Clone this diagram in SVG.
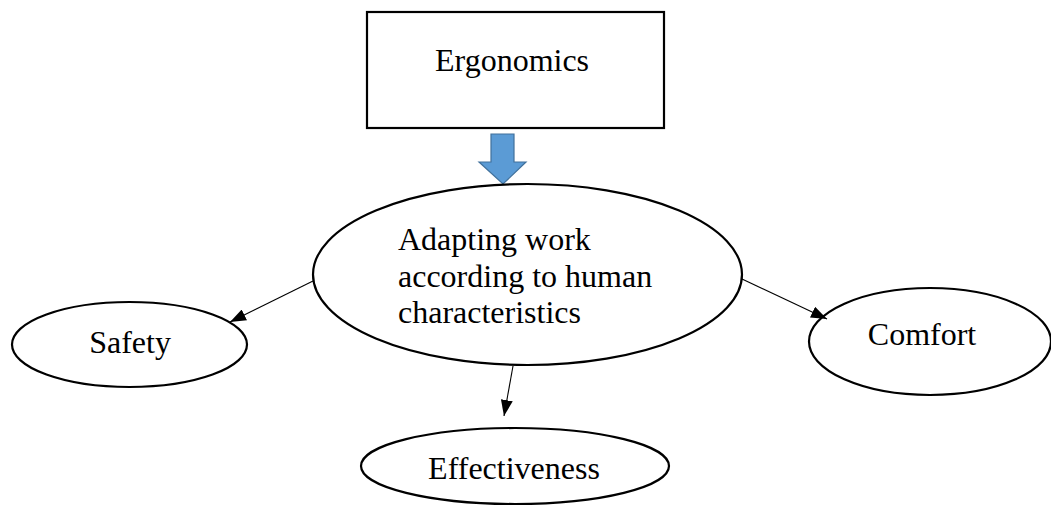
<svg xmlns="http://www.w3.org/2000/svg" width="1051" height="506" viewBox="0 0 1051 506">
<style>
text{font-family:"Liberation Serif","Times New Roman",serif;font-size:32px;fill:#000}
.node{fill:#fff;stroke:#000;stroke-width:2.2}
.conn line{stroke:#000;stroke-width:1.1}
</style>
<defs>
<marker id="ah" viewBox="0 0 16 12" refX="16" refY="6" markerWidth="16" markerHeight="12" markerUnits="userSpaceOnUse" orient="auto">
<path d="M0,0 L16,6 L0,12 Z" fill="#000"/>
</marker>
</defs>
<rect width="1051" height="506" fill="#fff"/>
<g id="ergonomics">
<rect class="node" x="367" y="12" width="297" height="116"/>
<text x="435" y="71">Ergonomics</text>
</g>
<g id="block-arrow">
<path d="M491,134 L514,134 L514,162 L526,162 L503,184 L479,162 L491,162 Z" fill="#5b9bd5" stroke="#41719c" stroke-width="1.2"/>
</g>
<g id="adapting">
<ellipse class="node" cx="527.5" cy="274.5" rx="214.5" ry="90.5"/>
<text x="398" y="250">Adapting work</text>
<text x="398" y="287">according to human</text>
<text x="398" y="323">characteristics</text>
</g>
<g id="safety">
<ellipse class="node" cx="129.5" cy="344.5" rx="117.5" ry="42.5"/>
<text x="130" y="353" text-anchor="middle">Safety</text>
</g>
<g id="comfort">
<ellipse class="node" cx="930" cy="341.5" rx="121" ry="53.5"/>
<text x="922" y="345" text-anchor="middle">Comfort</text>
</g>
<g id="effectiveness">
<ellipse class="node" cx="515" cy="466" rx="154" ry="38"/>
<text x="514" y="479" text-anchor="middle">Effectiveness</text>
</g>
<g id="connectors" class="conn">
<line x1="313" y1="281" x2="230" y2="322" marker-end="url(#ah)"/>
<line x1="742" y1="279" x2="827" y2="319" marker-end="url(#ah)"/>
<line x1="513" y1="366" x2="504" y2="416" marker-end="url(#ah)"/>
</g>
</svg>
